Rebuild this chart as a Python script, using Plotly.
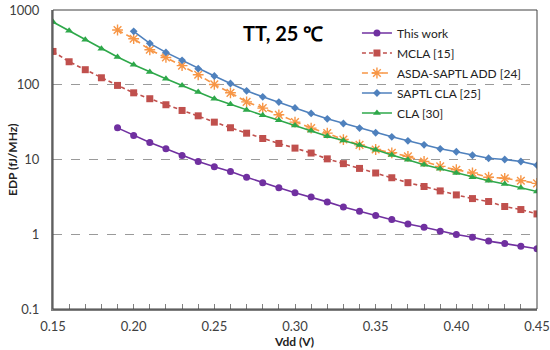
import plotly.graph_objects as go

vdd_all = [0.15, 0.16, 0.17, 0.18, 0.19, 0.20, 0.21, 0.22, 0.23, 0.24, 0.25,
           0.26, 0.27, 0.28, 0.29, 0.30, 0.31, 0.32, 0.33, 0.34, 0.35, 0.36,
           0.37, 0.38, 0.39, 0.40, 0.41, 0.42, 0.43, 0.44, 0.45]
vdd_019 = vdd_all[4:]
vdd_020 = vdd_all[5:]

this_work = [26.5, 21, 16.9, 13.9, 11.3, 9.4, 8.0, 6.9, 5.8, 4.9, 4.2, 3.6,
             3.16, 2.71, 2.32, 2.03, 1.78, 1.57, 1.37, 1.24, 1.1, 0.99, 0.91,
             0.81, 0.75, 0.69, 0.64]
mcla = [279, 203, 159, 124, 98, 78, 65, 54, 45.3, 38.4, 31.6, 26.6, 22.5,
        19.1, 16.4, 14.2, 12.2, 10.2, 8.8, 7.6, 6.6, 5.7, 4.9, 4.35, 3.8,
        3.36, 3.0, 2.74, 2.35, 2.14, 1.87]
asda = [540, 413, 294, 232, 180, 136, 101, 78, 59, 48.7, 39.6, 31.6, 26.3,
        22.5, 18.5, 15.7, 13.6, 12.3, 11.0, 9.4, 8.1, 7.3, 6.6, 5.8, 5.6,
        5.2, 4.8]
saptl = [518, 358, 271, 212, 164, 131, 104, 83, 69, 58.6, 49, 41.3, 35,
         30.3, 26.3, 22.8, 20.1, 17.8, 15.7, 13.9, 12.7, 11.4, 10.4, 10.0,
         9.4, 8.4]
cla = [690, 529, 401, 303, 235, 185, 148, 120, 98, 80, 65, 55, 46, 39, 33.6,
       28.4, 24.2, 20.5, 17.9, 15.6, 13.5, 11.5, 9.9, 8.5, 7.5, 6.6, 5.8,
       5.2, 4.7, 4.2, 3.73]

y_ticks = [0.1, 1, 10, 100, 1000]
y_tick_labels = ["0.1", "1", "10", "100", "1000"]
x_ticks = [0.15, 0.20, 0.25, 0.30, 0.35, 0.40, 0.45]
x_tick_labels = ["0.15", "0.20", "0.25", "0.30", "0.35", "0.40", "0.45"]

FONT = "Lato"
L, R, T, B = 53, 537, 10, 309
W, H = R - L, B - T

fig = go.Figure()

fig.add_trace(go.Scatter(x=vdd_019, y=this_work, name="This work", mode="lines+markers",
                         legendgroup="a",
                         line=dict(color="#7030A0", width=1.6),
                         marker=dict(symbol="circle", size=7, color="#7030A0")))
fig.add_trace(go.Scatter(x=vdd_all, y=mcla, name="MCLA [15]", mode="lines+markers",
                         legendgroup="b",
                         line=dict(color="#C0504D", width=1.6, dash="4px,3px"),
                         marker=dict(symbol="square", size=7, color="#C0504D")))
fig.add_trace(go.Scatter(x=vdd_019, y=asda, name="ASDA-SAPTL ADD [24]", mode="lines+markers",
                         legendgroup="c",
                         line=dict(color="#F79646", width=1.6, dash="6px,4px"),
                         marker=dict(symbol="asterisk-open", size=9,
                                     line=dict(color="#F79646", width=1.4))))
fig.add_trace(go.Scatter(x=vdd_020, y=saptl, name="SAPTL CLA [25]", mode="lines+markers",
                         legendgroup="d",
                         line=dict(color="#4F81BD", width=1.6),
                         marker=dict(symbol="diamond", size=6, color="#4F81BD")))
fig.add_trace(go.Scatter(x=vdd_all, y=cla, name="CLA [30]", mode="lines+markers",
                         legendgroup="e",
                         line=dict(color="#2EA84A", width=1.6),
                         marker=dict(symbol="triangle-up", size=7, color="#2EA84A")))

fig.add_annotation(text="<b>TT, 25 ℃</b>", xref="paper", yref="paper",
                   x=(283 - L) / W, y=(B - 33) / H, showarrow=False,
                   xanchor="center", yanchor="middle",
                   font=dict(size=20, color="#000", family=FONT))
fig.add_annotation(text="<b>Vdd (V)</b>", xref="paper", yref="paper",
                   x=(294 - L) / W, y=(B - 341) / H, showarrow=False,
                   xanchor="center", yanchor="middle",
                   font=dict(size=12, color="#222", family=FONT))
fig.add_annotation(text="<b>EDP (fJ/MHz)</b>", xref="paper", yref="paper",
                   x=(12 - L) / W, y=(B - 160) / H, showarrow=False, textangle=-90,
                   xanchor="center", yanchor="middle",
                   font=dict(size=12, color="#222", family=FONT))

fig.add_shape(type="rect", xref="paper", yref="paper", x0=0, y0=0, x1=1, y1=1,
              line=dict(color="#404040", width=1), layer="above")

fig.update_layout(
    width=550, height=350,
    margin=dict(l=L, r=550 - R, t=T, b=350 - B, autoexpand=False),
    paper_bgcolor="white", plot_bgcolor="white",
    font=dict(family=FONT, color="#404040", size=13),
    legend=dict(x=0.628, y=0.9716, xanchor="left", yanchor="top",
                bgcolor="rgba(0,0,0,0)", font=dict(size=12, color="#222"),
                tracegroupgap=1, itemwidth=30),
    xaxis=dict(range=[0.15, 0.45], tickvals=x_ticks, ticktext=x_tick_labels,
               ticks="inside", ticklen=5, tickcolor="#7f7f7f", automargin=False,
               minor=dict(dtick=0.01, tick0=0.15, ticks="inside", ticklen=5, tickcolor="#7f7f7f"),
               showgrid=False, zeroline=False, ticklabelstandoff=4,
               showline=True, linecolor="#7f7f7f", linewidth=2,
               tickfont=dict(size=13, color="#404040")),
    yaxis=dict(type="log", range=[-1, 3], tickvals=y_ticks, ticktext=y_tick_labels,
               ticks="", showgrid=True, gridcolor="#9a9a9a", griddash="dash", gridwidth=1,
               zeroline=False, showline=True, linecolor="#7f7f7f", linewidth=2,
               automargin=False, ticklabelstandoff=9,
               tickfont=dict(size=13, color="#404040")),
)

fig.write_html("out.html", config={"displayModeBar": False},
               post_script="document.body.style.margin='0';")
